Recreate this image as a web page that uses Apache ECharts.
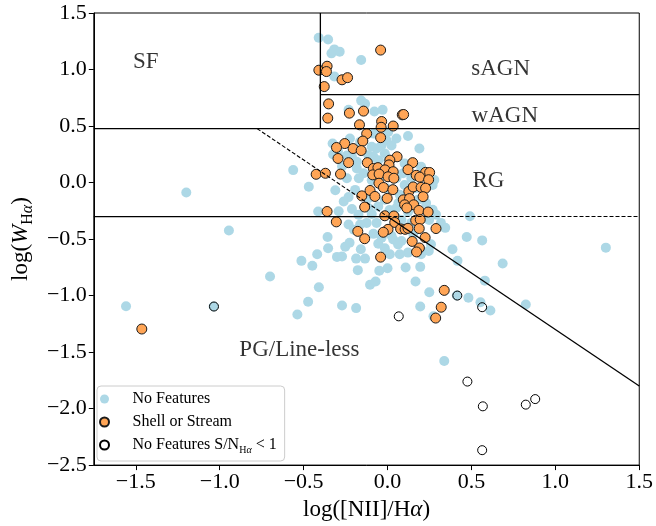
<!DOCTYPE html>
<html>
<head>
<meta charset="utf-8">
<script src="https://cdn.jsdelivr.net/npm/echarts@6/dist/echarts.min.js"></script>
<style>
html,body{margin:0;padding:0;background:#fff;}
#chart{width:656px;height:526px;}
</style>
</head>
<body>
<div id="chart"></div>
<script>
// ---------------- DATA ----------------
const xTicks = [-1.5, -1.0, -0.5, 0.0, 0.5, 1.0, 1.5];
const yTicks = [-2.5, -2.0, -1.5, -1.0, -0.5, 0.0, 0.5, 1.0, 1.5];

// "No Features" (light blue)
const noFeatures = [
[-0.410,1.281],[-0.354,1.266],[-0.317,1.178],[-0.334,1.143],[-0.285,1.158],[-0.157,1.084],[-0.317,0.939],
[-0.157,0.725],[-0.134,0.696],[-0.232,0.643],[-0.078,0.628],[-0.029,0.643],
[0.122,0.411],[0.190,0.301],[0.004,0.447],[-0.006,0.374],[-0.035,0.330],[-0.327,0.345],[-0.295,0.275],
[-0.242,0.239],[-0.324,0.248],[-0.212,0.228],[-0.183,0.184],[-0.183,0.125],[-0.065,0.301],[-0.094,0.316],
[-0.114,0.242],[-0.084,0.228],[-0.055,0.198],[-0.016,0.257],[-0.163,0.360],
[-0.562,0.110],[-0.469,-0.037],[-0.311,-0.068],[-0.193,-0.065],[-0.232,-0.129],[-0.261,-0.167],[-0.114,-0.138],
[-0.114,-0.225],[-0.212,-0.234],[-0.413,-0.256],[-0.045,0.038],[-0.094,0.020],[-0.016,-0.153],[-0.055,-0.211],
[0.102,0.169],[0.093,0.082],[0.200,0.140],[0.269,-0.021],[0.279,0.023],[0.102,-0.021],[0.073,-0.109],
[0.181,-0.153],[0.053,-0.225],[0.004,0.198],[0.269,-0.240],
[-1.199,-0.088],[-0.945,-0.425],
[-0.357,-0.482],[-0.354,-0.582],[-0.419,-0.635],[-0.448,-0.737],[-0.513,-0.693],[-0.301,-0.658],[-0.252,-0.568],
[-0.226,-0.533],[-0.232,-0.372],[-0.163,-0.372],[-0.173,-0.284],[-0.134,-0.673],[-0.159,-0.591],[-0.177,-0.775],
[-0.409,-0.927],[-0.104,-0.904],[-0.071,-0.875],[-0.049,-0.781],[-0.016,-0.582],[-0.055,-0.541],[-0.084,-0.454],
[-0.065,-0.357],[-0.094,-0.278],[0.014,-0.635],[0.000,-0.758],[-0.291,-0.254],
[0.108,-0.752],[0.195,-0.746],[0.167,-0.875],[0.249,-0.971],[0.387,-0.591],[0.417,-0.693],[0.472,-0.482],
[0.344,-0.401],[0.289,-0.284],[0.122,-0.620],[0.073,-0.635],[0.246,-0.605],[0.259,-0.547],[0.083,-0.518],
[0.034,-0.504],[0.122,-0.261],[0.491,-0.298],[0.564,-0.512],[1.301,-0.576],[0.686,-0.717],[0.580,-0.868],
[0.824,-1.079],[0.613,-1.132],[0.554,-1.059],[0.482,-1.019],[0.338,-1.579],[0.195,-1.097],[0.274,-1.184],
[0.413,-1.000],[-0.271,-0.655],[-0.187,-0.673],[-0.473,-1.054],[-0.271,-1.088],[-0.187,-1.111],[0.063,-0.547],
[-0.700,-0.831],[-1.036,-1.097],[-0.537,-1.167],[-1.558,-1.094],[0.200,-0.635],
[0.053,-0.313],[0.142,-0.357],[0.024,-0.471],[0.083,-0.331],[-0.035,-0.489],[0.153,-0.454],[0.248,-0.331],
[0.318,-0.357],[0.024,0.327],[0.053,0.389],[-0.083,0.433],[-0.142,0.082],[-0.171,0.038],[-0.242,0.038],
[-0.271,0.143],[0.065,-0.182],[-0.124,-0.357],[0.012,-0.243],[0.142,0.038],[0.053,0.038],[-0.006,-0.050],
[0.171,-0.050],[0.230,-0.182],[-0.224,0.389],[-0.200,-0.418]
];

// "Shell or Stream" (orange)
const shellStream = [
[-0.041,1.172],[-0.409,0.994],[-0.360,1.029],[-0.364,0.982],[-0.271,0.909],[-0.238,0.928],[-0.377,0.849],
[-0.351,0.696],[-0.356,0.570],[-0.227,0.614],[-0.143,0.632],[0.088,0.599],[0.096,0.602],[-0.167,0.511],
[-0.035,0.540],[-0.038,0.489],[0.034,0.500],[-0.124,0.432],[-0.041,0.397],[-0.147,0.367],[-0.255,0.345],
[-0.304,0.310],[-0.205,0.301],[-0.157,0.283],[-0.295,0.213],[-0.232,0.176],[-0.120,0.176],[0.057,0.228],
[0.014,0.198],[0.009,0.156],[0.150,0.176],[0.122,0.114],[-0.425,0.073],[-0.370,0.082],[-0.280,0.075],
[-0.084,0.125],[-0.057,0.132],[-0.015,0.112],[0.034,0.096],[-0.088,0.068],[-0.050,0.075],[0.003,0.051],
[0.171,0.064],[0.227,0.090],[0.251,0.089],[0.192,0.048],[0.245,0.025],[0.038,0.038],[-0.051,-0.006],
[-0.024,-0.044],[0.032,-0.063],[-0.104,-0.070],[-0.153,-0.118],[-0.075,-0.123],[-0.002,-0.140],[0.127,-0.079],
[0.153,-0.039],[0.200,-0.043],[0.227,-0.050],[0.212,-0.125],[0.094,-0.153],[0.131,-0.142],[0.102,-0.197],
[0.156,-0.197],[0.115,-0.225],[-0.136,-0.217],[-0.360,-0.256],[0.187,-0.247],[0.242,-0.261],[-0.016,-0.294],
[0.038,-0.296],[-0.305,-0.348],[0.043,-0.353],[0.168,-0.335],[0.195,-0.328],[0.078,-0.410],[0.105,-0.414],
[0.122,-0.405],[0.189,-0.407],[0.289,-0.407],[0.003,-0.414],[-0.025,-0.440],[-0.177,-0.432],[-0.136,-0.497],
[0.147,-0.521],[0.224,-0.487],[0.190,-0.579],[0.173,-0.614],[-0.041,-0.660],[0.338,-0.954],[0.320,-1.103],
[0.287,-1.199],[-1.464,-1.296]
];

// "No Features S/N < 1" (open circles)
const lowSN = [
[-1.034,-1.097],[0.067,-1.184],[0.416,-1.000],[0.564,-1.103],[0.476,-1.761],
[0.568,-1.980],[0.824,-1.965],[0.880,-1.916],[0.564,-2.368]
];

// Classification boundaries (log W_Ha thresholds and NII split)
const logW3 = Math.log10(3);
const logW6 = Math.log10(6);
const logW05 = Math.log10(0.5);
const nSplit = -0.4;
const solidLines = [
  [[-1.75, logW3], [1.5, logW3]],
  [[nSplit, logW3], [nSplit, 1.5]],
  [[nSplit, logW6], [1.5, logW6]],
  [[-1.75, logW05], [0.0, logW05]],
  [[0.0, -0.3], [1.5, -1.8]]
];
const dashedLines = [
  [[0.0, logW05], [1.5, logW05]],
  [[-0.777, 0.477], [0.0, -0.3]]
];

const regionNames = ['SF', 'sAGN', 'wAGN', 'RG', 'PG/Line-less'];
const regionX = [-1.44, 0.674, 0.699, 0.601, -0.525];
const regionY = [1.064, 1.005, 0.590, 0.015, -1.485];

// ---------------- CHART ----------------
const FONT = 'Liberation Serif';
const fmt = v => (Math.abs(v) < 1e-9 ? 0 : v).toFixed(1).replace('-', '\u2212');

const series = [
  {
    name: 'No Features', type: 'scatter', symbol: 'circle', symbolSize: 10,
    data: noFeatures, z: 2,
    itemStyle: { color: '#add8e6', borderWidth: 0, opacity: 1 }
  },
  {
    name: 'Shell or Stream', type: 'scatter', symbol: 'circle', symbolSize: 10,
    data: shellStream, z: 3,
    itemStyle: { color: '#ffa556', borderColor: '#1a1a1a', borderWidth: 1, opacity: 1 }
  },
  {
    name: 'No Features S/N<1', type: 'scatter', symbol: 'circle', symbolSize: 9,
    data: lowSN, z: 4,
    itemStyle: { color: 'rgba(255,255,255,0)', borderColor: '#000', borderWidth: 1, opacity: 1 }
  }
];
solidLines.forEach((seg, i) => series.push({
  name: 'solid' + i, type: 'line', data: seg, showSymbol: false, symbol: 'none', z: 5, silent: true,
  lineStyle: { color: '#000', width: 1.3, type: 'solid' }
}));
dashedLines.forEach((seg, i) => series.push({
  name: 'dash' + i, type: 'line', data: seg, showSymbol: false, symbol: 'none', z: 5, silent: true,
  lineStyle: { color: '#000', width: 1.1, type: [4, 2] }
}));
series.push({
  name: 'regions', type: 'scatter', symbolSize: 1, z: 6, silent: true,
  itemStyle: { color: 'rgba(0,0,0,0)' },
  data: regionNames.map((n, i) => ({ name: n, value: [regionX[i], regionY[i]] })),
  label: { show: true, position: 'inside', formatter: '{b}', fontFamily: FONT, fontSize: 23, color: '#000' }
});

const chart = echarts.init(document.getElementById('chart'), null, { renderer: 'canvas' });
chart.setOption({
  animation: false,
  backgroundColor: '#fff',
  grid: { left: 89, right: 16, top: 13, bottom: 57, show: true, borderColor: '#000', borderWidth: 1, backgroundColor: 'rgba(0,0,0,0)' },
  xAxis: {
    type: 'value', min: -1.75, max: 1.5,
    axisLine: { show: true, onZero: false, lineStyle: { color: '#000', width: 1 } },
    axisTick: { show: true, length: 5, customValues: xTicks, lineStyle: { color: '#000' } },
    axisLabel: { customValues: xTicks, formatter: fmt, fontFamily: FONT, fontSize: 22, color: '#000', margin: 6 },
    splitLine: { show: false },
    name: '{n|log([NII]/H}{a|\u03b1}{n|)}',
    nameLocation: 'middle', nameGap: 30,
    nameTextStyle: {
      fontFamily: FONT, fontSize: 23, color: '#000',
      rich: {
        n: { fontFamily: FONT, fontSize: 23, color: '#000' },
        a: { fontFamily: FONT, fontSize: 23, fontStyle: 'italic', color: '#000' }
      }
    }
  },
  yAxis: {
    type: 'value', min: -2.5, max: 1.5, interval: 0.5,
    axisLine: { show: true, onZero: false, lineStyle: { color: '#000', width: 1 } },
    axisTick: { show: true, length: 5, customValues: yTicks, lineStyle: { color: '#000' } },
    axisLabel: { customValues: yTicks, formatter: fmt, fontFamily: FONT, fontSize: 22, color: '#000', margin: 7 },
    splitLine: { show: false },
    name: '{n|log(}{i|W}{s|H}{sa|\u03b1}{n|)}',
    nameLocation: 'middle', nameGap: 56, nameRotate: 90,
    nameTextStyle: {
      fontFamily: FONT, fontSize: 23, color: '#000',
      rich: {
        n: { fontFamily: FONT, fontSize: 23, lineHeight: 26, color: '#000' },
        i: { fontFamily: FONT, fontSize: 23, lineHeight: 26, fontStyle: 'italic', color: '#000' },
        s: { fontFamily: FONT, fontSize: 16, lineHeight: 16, verticalAlign: 'top', padding: [12, 0, 0, 0], color: '#000' },
        sa: { fontFamily: FONT, fontSize: 16, lineHeight: 16, verticalAlign: 'top', padding: [12, 0, 0, 0], fontStyle: 'italic', color: '#000' }
      }
    }
  },
  legend: {
    data: ['No Features', 'Shell or Stream', 'No Features S/N<1'],
    orient: 'vertical', left: 97, top: 386,
    padding: [4, 8, 6, 2],
    itemWidth: 46, itemHeight: 9, itemGap: 5,
    backgroundColor: 'rgba(255,255,255,0.8)', borderColor: '#cccccc', borderWidth: 1, borderRadius: 4,
    selectedMode: false,
    formatter: function (name) {
      if (name === 'No Features S/N<1') return '{t|No Features S/N}{s|H}{sa|\u03b1}{t| < 1}';
      return '{t|' + name + '}';
    },
    textStyle: {
      fontFamily: FONT, fontSize: 16, color: '#000', lineHeight: 18,
      rich: {
        t: { fontFamily: FONT, fontSize: 16, lineHeight: 18, color: '#000' },
        s: { fontFamily: FONT, fontSize: 10, lineHeight: 10, verticalAlign: 'top', padding: [9, 0, 0, 0], color: '#000' },
        sa: { fontFamily: FONT, fontSize: 10, lineHeight: 10, verticalAlign: 'top', padding: [9, 0, 0, 0], fontStyle: 'italic', color: '#000' }
      }
    }
  },
  series: series
});
</script>
</body>
</html>
